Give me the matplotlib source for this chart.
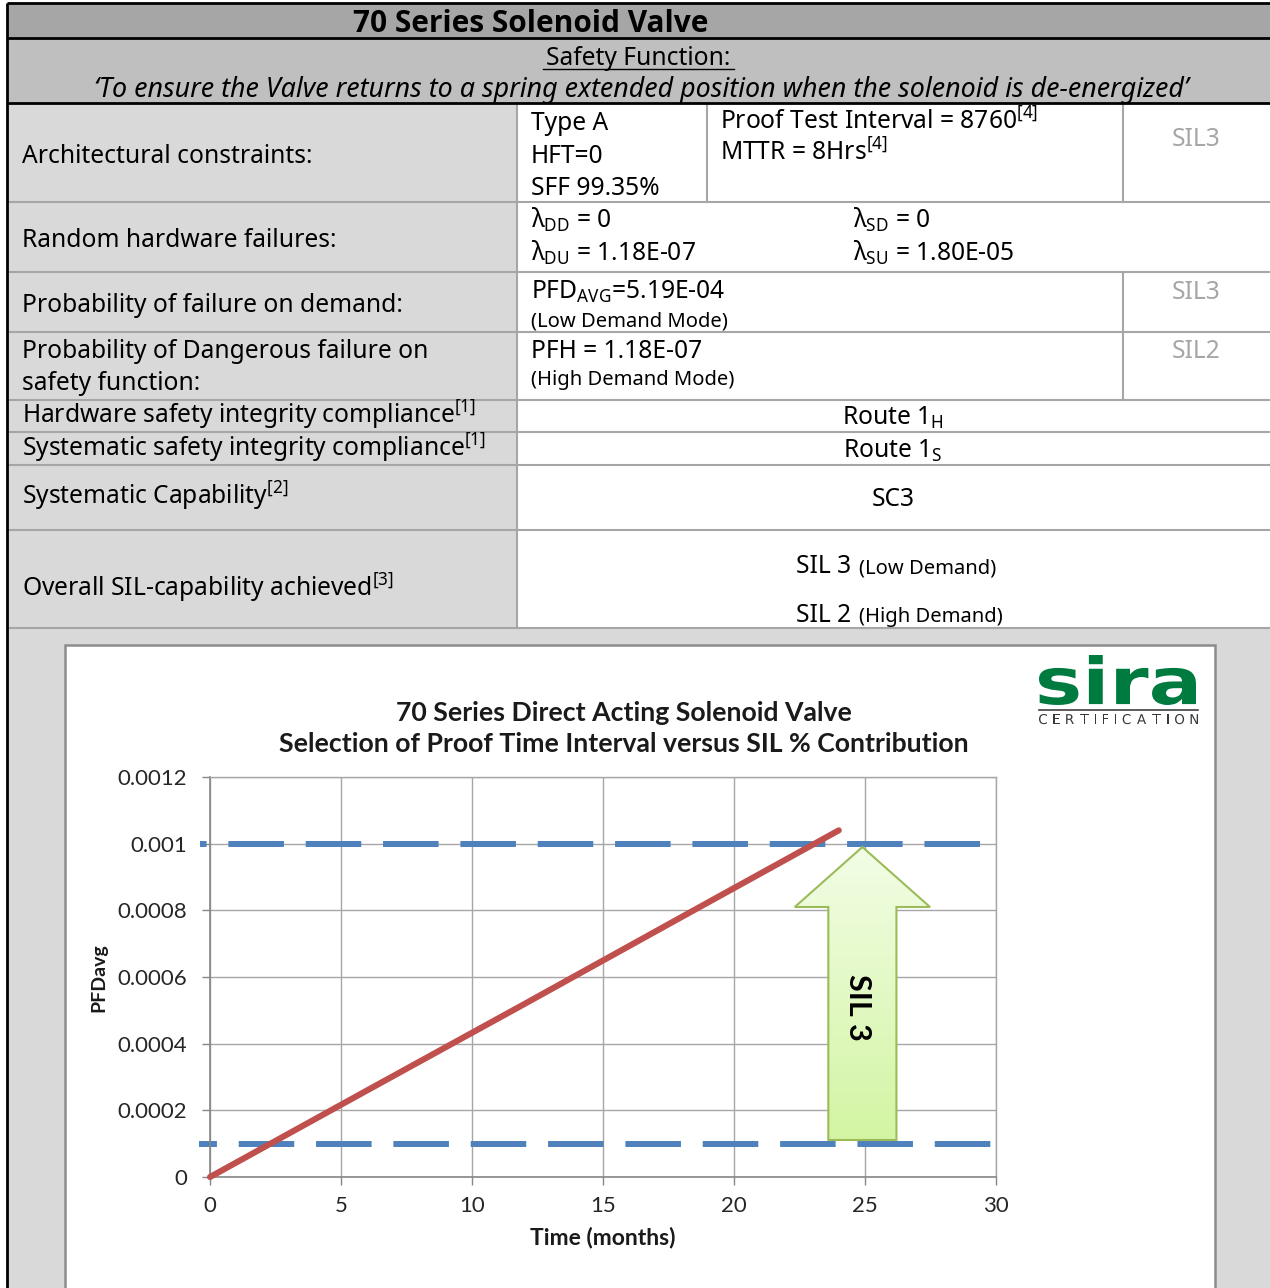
import numpy as np
import matplotlib
matplotlib.use('Agg')
import matplotlib.pyplot as plt
from matplotlib.patches import Rectangle, Polygon, PathPatch
from matplotlib.textpath import TextPath
from matplotlib.font_manager import FontProperties
from matplotlib.transforms import Affine2D
from matplotlib.colors import LinearSegmentedColormap

plt.rcParams['mathtext.fontset'] = 'custom'
plt.rcParams['mathtext.rm'] = 'Noto Sans'
plt.rcParams['mathtext.it'] = 'Noto Sans:italic'
plt.rcParams['mathtext.bf'] = 'Noto Sans:bold'

# ---- table content ----
table_title = '70 Series Solenoid Valve'
safety_heading = 'Safety Function:'
safety_text = '\u2018To ensure the Valve returns to a spring extended position when the solenoid is de-energized\u2019'

arch_label = 'Architectural constraints:'
arch_type = ['Type A', 'HFT=0', 'SFF 99.35%']
arch_test = [r'Proof Test Interval = 8760$^{\mathrm{[4]}}$', r'MTTR = 8Hrs$^{\mathrm{[4]}}$']
random_label = 'Random hardware failures:'
lambda_left = [r'λ$_{\mathrm{DD}}$ = 0', r'λ$_{\mathrm{DU}}$ = 1.18E-07']
lambda_right = [r'λ$_{\mathrm{SD}}$ = 0', r'λ$_{\mathrm{SU}}$ = 1.80E-05']
pfd_label = 'Probability of failure on demand:'
pfd_value = r'PFD$_{\mathrm{AVG}}$=5.19E-04'
pfd_mode = '(Low Demand Mode)'
pfh_label = ['Probability of Dangerous failure on', 'safety function:']
pfh_value = 'PFH = 1.18E-07'
pfh_mode = '(High Demand Mode)'
sil_ratings = ['SIL3', 'SIL3', 'SIL2']
hw_label = r'Hardware safety integrity compliance$^{\mathrm{[1]}}$'
hw_value = r'Route 1$_{\mathrm{H}}$'
sys_label = r'Systematic safety integrity compliance$^{\mathrm{[1]}}$'
sys_value = r'Route 1$_{\mathrm{S}}$'
sc_label = r'Systematic Capability$^{\mathrm{[2]}}$'
sc_value = 'SC3'
overall_label = r'Overall SIL-capability achieved$^{\mathrm{[3]}}$'
overall_sil = ['SIL 3', 'SIL 2']
overall_mode = ['(Low Demand)', '(High Demand)']

# ---- chart data ----
chart_title = ['70 Series Direct Acting Solenoid Valve',
               'Selection of Proof Time Interval versus SIL % Contribution']
months = [0, 6, 12, 18, 24]
pfd_avg = [0.0, 0.00026, 0.000519, 0.00078, 0.00104]
sil_upper = 0.001
sil_lower = 0.0001
upper_x = [-0.38, 30]
lower_x = [-0.42, 30]
x_ticks = [0, 5, 10, 15, 20, 25, 30]
y_ticks = [0, 0.0002, 0.0004, 0.0006, 0.0008, 0.001, 0.0012]
y_tick_labels = ['0', '0.0002', '0.0004', '0.0006', '0.0008', '0.001', '0.0012']
arrow_month = 24.9

W, H = 1270, 1288
fig = plt.figure(figsize=(W / 100, H / 100), dpi=100, facecolor='white')
bg = fig.add_axes([0, 0, 1, 1])
bg.set_xlim(0, W)
bg.set_ylim(H, 0)
bg.axis('off')

TF = 'Noto Sans'
LBL = '#d9d9d9'
GRID = '#a6a6a6'


def txt(x, y, s, size=17.7, ha='left', color='black', family=TF, **kw):
    bg.text(x, y, s, fontsize=size, ha=ha, va='baseline', color=color,
            family=family, **kw)


def hline(y, x0=7, x1=W, color=GRID, lw=1.5):
    bg.plot([x0, x1], [y, y], color=color, lw=lw, solid_capstyle='butt')


def vline(x, y0, y1, color=GRID, lw=1.5):
    bg.plot([x, x], [y0, y1], color=color, lw=lw, solid_capstyle='butt')


# backgrounds
bg.add_patch(Rectangle((7, 3), W - 7, 35, fc='#a6a6a6', ec='none'))
bg.add_patch(Rectangle((7, 38), W - 7, 65, fc='#bfbfbf', ec='none'))
bg.add_patch(Rectangle((7, 103), 510, 525, fc=LBL, ec='none'))
bg.add_patch(Rectangle((517, 103), W - 517, 525, fc='white', ec='none'))
bg.add_patch(Rectangle((7, 628), W - 7, H - 628, fc=LBL, ec='none'))

# grid of table
for y in [202, 272, 332, 400, 432, 465, 530, 628]:
    hline(y)
vline(517, 103, 628)
vline(707, 103, 202)
vline(1123, 103, 202)
vline(1123, 272, 400)
hline(3, color='black', lw=2)
hline(37.5, color='black', lw=2)
hline(103, color='black', lw=2)
vline(7, 3, H, color='black', lw=2)

# header text
txt(531, 32, table_title, size=21.5, ha='center', weight='bold',
    family='Open Sans')
txt(638, 65, safety_heading, ha='center')
bg.plot([543, 734], [69, 69], color='black', lw=1)
txt(641, 97, safety_text, ha='center', style='italic', size=19.3)

# row text
txt(22, 163, arch_label)
for s, y in zip(arch_type, [130, 163, 195]):
    txt(531, y, s)
for s, y in zip(arch_test, [130, 161]):
    txt(720, y, s)
txt(22, 247, random_label)
for s, y in zip(lambda_left, [228, 261]):
    txt(531, y, s)
for s, y in zip(lambda_right, [228, 261]):
    txt(853, y, s)
txt(22, 312, pfd_label)
txt(531, 299, pfd_value)
txt(531, 326, pfd_mode, size=14.5)
txt(22, 358, pfh_label[0])
txt(22, 390, pfh_label[1])
txt(531, 358, pfh_value)
txt(531, 385, pfh_mode, size=14.5)
for s, y in zip(sil_ratings, [146, 299, 358]):
    txt(1196, y, s, ha='center', color='#a6a6a6')
txt(22, 424, hw_label)
txt(893, 425, hw_value, ha='center')
txt(22, 457, sys_label)
txt(893, 458, sys_value, ha='center')
txt(22, 505, sc_label)
txt(893, 506, sc_value, ha='center')
txt(22, 597, overall_label)
for s, m, y in zip(overall_sil, overall_mode, [573, 622]):
    txt(851, y, s, ha='right')
    txt(859, y, m, size=14.5)

# chart box
bg.add_patch(Rectangle((65, 645), 1150, 700, fc='white', ec='#8c8c8c', lw=1.8))

# sira logo
logo = TextPath((0, 0), 'sira', size=100,
                prop=FontProperties(family='DejaVu Sans', weight='bold'))
bb = logo.get_extents()
tr = (Affine2D().translate(-bb.x0, -bb.y0)
      .scale(157 / bb.width, -50 / bb.height).translate(1039, 705))
bg.add_patch(PathPatch(tr.transform_path(logo), fc='#007b40', ec='none'))
bg.plot([1039, 1198], [710, 710], color='#404040', lw=1.2)

# letter-spaced CERTIFICATION
cert_prop = FontProperties(family='DejaVu Sans')
letters = [TextPath((0, 0), ch, size=13.5, prop=cert_prop) for ch in 'CERTIFICATION']
widths = [p.get_extents().width for p in letters]
gap = (1198 - 1039 - sum(widths)) / (len(letters) - 1)
x = 1039
for p, w in zip(letters, widths):
    e = p.get_extents()
    t = Affine2D().translate(-e.x0, 0).scale(1, -1).translate(x, 724)
    bg.add_patch(PathPatch(t.transform_path(p), fc='#383838', ec='none'))
    x += w + gap

# chart titles and axis labels
CF = 'Lato'
bg.text(624, 713, chart_title[0], ha='center', va='center', fontsize=19.2,
        weight='bold', family=CF, color='#1a1a1a')
bg.text(624, 744, chart_title[1], ha='center', va='center', fontsize=19.2,
        weight='bold', family=CF, color='#1a1a1a')
bg.text(603, 1238, 'Time (months)', ha='center', va='center', fontsize=16.5,
        weight='bold', family=CF, color='#1a1a1a')
bg.text(99, 978, 'PFDavg', ha='center', va='center', rotation=90,
        fontsize=14, weight='bold', family=CF, color='#1a1a1a')

# chart axes
ax = fig.add_axes([210 / W, (H - 1177) / H, 786 / W, 400 / H])
ax.set_facecolor('none')
ax.set_xlim(0, 30)
ax.set_ylim(0, 0.0012)
ax.set_xticks(x_ticks)
ax.set_yticks(y_ticks)
ax.set_yticklabels(y_tick_labels)
ax.grid(True, color=GRID, lw=1)
ax.set_axisbelow(True)
for side in ['top', 'right']:
    ax.spines[side].set_color(GRID)
    ax.spines[side].set_linewidth(1)
for side in ['left', 'bottom']:
    ax.spines[side].set_color('#868686')
    ax.spines[side].set_linewidth(1.2)
ax.tick_params(direction='out', length=5.8, width=1, color='#868686',
               labelsize=16, labelcolor='#262626')
ax.tick_params(axis='y', pad=10.5)
ax.tick_params(axis='x', pad=8)
for lab in ax.get_xticklabels() + ax.get_yticklabels():
    lab.set_family(CF)

ax.plot(upper_x, [sil_upper] * 2, color='#4f81bd', lw=4.3,
        linestyle=(8.2, (9.3, 3.65)), dash_capstyle='butt', clip_on=False,
        zorder=2)
ax.plot(lower_x, [sil_lower] * 2, color='#4f81bd', lw=4.3,
        linestyle=(6.3, (9.3, 3.65)), dash_capstyle='butt', clip_on=False,
        zorder=2)
ax.plot(months, pfd_avg, color='#c0504d', lw=4.4, solid_capstyle='round',
        zorder=3, clip_on=False)

# SIL 3 arrow
base_y, head_y, tip_y = 0.000111, 0.00081, 0.00099
sw, hw = 1.3, 2.58
verts = [(arrow_month - sw, base_y), (arrow_month + sw, base_y),
         (arrow_month + sw, head_y), (arrow_month + hw, head_y),
         (arrow_month, tip_y), (arrow_month - hw, head_y),
         (arrow_month - sw, head_y)]
poly = Polygon(verts, closed=True, fc='none', ec='#9bbb59', lw=1.5, zorder=5)
ax.add_patch(poly)
grad = np.linspace(0, 1, 256).reshape(-1, 1)
cmap = LinearSegmentedColormap.from_list('arrow', ['#d3f5a3', '#f2fde6'])
im = ax.imshow(grad, extent=(arrow_month - hw, arrow_month + hw, base_y, tip_y),
               origin='lower', cmap=cmap, aspect='auto', zorder=4)
im.set_clip_path(poly)
ax.set_xlim(0, 30)
ax.set_ylim(0, 0.0012)
ax.text(arrow_month - 0.15, 0.00051, 'SIL 3', rotation=-90, ha='center',
        va='center', fontsize=22, weight='bold', family=CF, zorder=6)

fig.savefig('out.png', dpi=100, facecolor='white')
